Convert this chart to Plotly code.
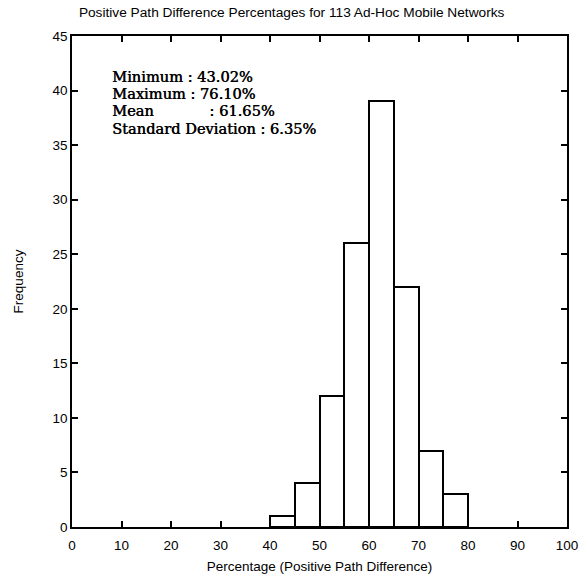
import plotly.graph_objects as go

# Histogram bins (percent) and counts
bin_starts = [40, 45, 50, 55, 60, 65, 70, 75]
bin_width = 5
counts = [1, 4, 12, 26, 39, 22, 7, 3]

stats_labels = ["Minimum", "Maximum", "Mean", "Standard Deviation"]
stats_values = ["43.02%", "76.10%", "61.65%", "6.35%"]

x_ticks = [0, 10, 20, 30, 40, 50, 60, 70, 80, 90, 100]
y_ticks = [0, 5, 10, 15, 20, 25, 30, 35, 40, 45]

centers = [s + bin_width / 2 for s in bin_starts]

SANS = "Liberation Sans, Arial, sans-serif"
SERIF = "DejaVu Serif, Liberation Serif, serif"

fig = go.Figure(
    go.Bar(
        x=centers,
        y=counts,
        width=[bin_width] * len(counts),
        marker=dict(color="white", line=dict(color="black", width=2)),
        showlegend=False,
    )
)

axis_common = dict(
    automargin=False,
    showgrid=False,
    zeroline=False,
    showline=True,
    linecolor="black",
    linewidth=1.5,
    mirror="allticks",
    ticks="inside",
    ticklen=6,
    tickwidth=1.5,
    tickcolor="black",
    tickfont=dict(family=SANS, size=13.5, color="black"),
)

fig.update_xaxes(
    range=[0, 100],
    tickvals=x_ticks,
    ticklabelstandoff=5,
    title=dict(text="Percentage (Positive Path Difference)",
               font=dict(family=SANS, size=13.5, color="black"),
               standoff=10),
    **axis_common,
)
fig.update_yaxes(
    range=[0, 45],
    tickvals=y_ticks,
    title=dict(text="Frequency",
               font=dict(family=SANS, size=13.5, color="black"),
               standoff=26),
    **axis_common,
)

# Summary statistics block, one line per statistic
pad = {"Minimum": "Minimum ", "Maximum": "Maximum ", "Mean": "Mean            ",
       "Standard Deviation": "Standard Deviation "}
line_y = [0.9165, 0.8819, 0.8473, 0.8126]
for lab, val, yy in zip(stats_labels, stats_values, line_y):
    fig.add_annotation(
        x=0.0768, y=yy, xref="paper", yref="paper",
        xanchor="left", yanchor="middle", align="left", showarrow=False,
        text=f"{pad[lab]}: {val}".replace(" ", "&nbsp;"),
        font=dict(family=SERIF, size=14.6, color="black",
                  shadow="0.5px 0px 0px black"),
    )

fig.update_layout(
    width=581, height=579,
    margin=dict(l=72, r=14, t=36, b=52),
    paper_bgcolor="white",
    plot_bgcolor="white",
    bargap=0,
    title=dict(text="Positive Path Difference Percentages for 113 Ad-Hoc Mobile Networks",
               x=0.502, xanchor="center", y=0.988, yanchor="top",
               font=dict(family=SANS, size=13.7, color="black")),
)

fig.write_html("out.html")
